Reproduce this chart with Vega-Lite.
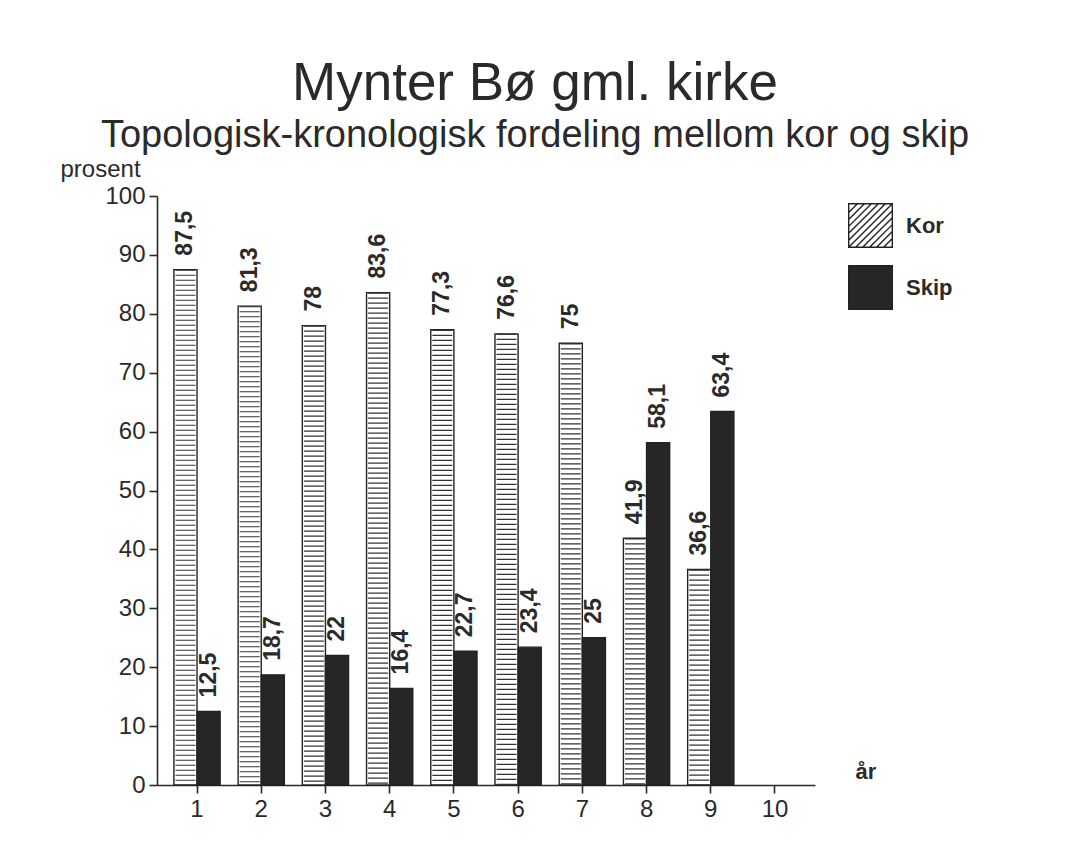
{
  "$schema": "https://vega.github.io/schema/vega-lite/v6.json",
  "autosize": {"type": "none"},
  "padding": {"left": 157, "top": 196, "right": 252, "bottom": 80},
  "width": 658,
  "height": 589,
  "title": {
    "text": "Mynter Bø gml. kirke",
    "subtitle": "Topologisk-kronologisk fordeling mellom kor og skip",
    "anchor": "middle",
    "frame": "group",
    "dx": 49,
    "offset": 2,
    "font": "Liberation Sans",
    "fontSize": 53,
    "fontWeight": "normal",
    "color": "#2a2a2a",
    "subtitleFont": "Liberation Sans",
    "subtitleFontSize": 38,
    "subtitleColor": "#2a2a2a",
    "subtitlePadding": 6
  },
  "data": {
    "values": [
      {"aar": "1", "type": "Kor", "pct": 87.5},
      {"aar": "1", "type": "Skip", "pct": 12.5},
      {"aar": "2", "type": "Kor", "pct": 81.3},
      {"aar": "2", "type": "Skip", "pct": 18.7},
      {"aar": "3", "type": "Kor", "pct": 78},
      {"aar": "3", "type": "Skip", "pct": 22},
      {"aar": "4", "type": "Kor", "pct": 83.6},
      {"aar": "4", "type": "Skip", "pct": 16.4},
      {"aar": "5", "type": "Kor", "pct": 77.3},
      {"aar": "5", "type": "Skip", "pct": 22.7},
      {"aar": "6", "type": "Kor", "pct": 76.6},
      {"aar": "6", "type": "Skip", "pct": 23.4},
      {"aar": "7", "type": "Kor", "pct": 75},
      {"aar": "7", "type": "Skip", "pct": 25},
      {"aar": "8", "type": "Kor", "pct": 41.9},
      {"aar": "8", "type": "Skip", "pct": 58.1},
      {"aar": "9", "type": "Kor", "pct": 36.6},
      {"aar": "9", "type": "Skip", "pct": 63.4}
    ]
  },
  "encoding": {
    "x": {
      "field": "aar",
      "type": "nominal",
      "sort": null,
      "scale": {"domain": ["1","2","3","4","5","6","7","8","9","10"], "paddingInner": 0.28, "paddingOuter": 0.263},
      "axis": {
        "title": "år",
        "titleAngle": 0,
        "titleX": 698,
        "titleY": -7,
        "titleAlign": "left",
        "titleBaseline": "alphabetic",
        "titleFontSize": 22,
        "titleFontWeight": "bold",
        "titleColor": "#2a2a2a",
        "labelAngle": 0,
        "labelFontSize": 24,
        "labelColor": "#2a2a2a",
        "labelPadding": 4,
        "tickSize": 8,
        "tickColor": "#2a2a2a",
        "domainColor": "#2a2a2a",
        "domainWidth": 1.6,
        "tickWidth": 1.6,
        "grid": false
      }
    },
    "xOffset": {"field": "type", "type": "nominal", "scale": {"domain": ["Kor", "Skip"], "paddingInner": 0, "paddingOuter": 0}},
    "y": {
      "field": "pct",
      "type": "quantitative",
      "scale": {"domain": [0, 100], "nice": false},
      "axis": {
        "title": "prosent",
        "titleAngle": 0,
        "titleX": -97,
        "titleY": -20,
        "titleAlign": "left",
        "titleBaseline": "alphabetic",
        "titleFontSize": 24,
        "titleFontWeight": "normal",
        "titleColor": "#2a2a2a",
        "values": [0, 10, 20, 30, 40, 50, 60, 70, 80, 90, 100],
        "labelFontSize": 24,
        "labelColor": "#2a2a2a",
        "labelPadding": 4,
        "tickSize": 8,
        "tickColor": "#2a2a2a",
        "tickWidth": 1.6,
        "domainColor": "#2a2a2a",
        "domainWidth": 1.6,
        "grid": false
      }
    }
  },
  "layer": [
    {
      "mark": {"type": "bar", "stroke": "#222222", "strokeWidth": 1.4},
      "encoding": {
        "fill": {
          "field": "type",
          "type": "nominal",
          "scale": {"domain": ["Kor", "Skip"], "range": ["#ffffff", "#262626"]},
          "legend": {
            "title": null,
            "orient": "none",
            "legendX": 691,
            "legendY": 7,
            "symbolType": "square",
            "symbolSize": 1900,
            "symbolStrokeColor": "#222222",
            "symbolStrokeWidth": 1.4,
            "rowPadding": 11,
            "labelOffset": 13,
            "labelFontSize": 22,
            "labelFontWeight": "bold",
            "labelColor": "#2a2a2a",
            "encode": {
              "symbols": {
                "update": {
                  "shape": {"signal": "datum.value === 'Kor' ? 'M-1,-1H1V1H-1Z M-1,-0.6L-0.6,-1 M-1,-0.28L-0.28,-1 M-1,0.04L0.04,-1 M-1,0.36L0.36,-1 M-1,0.68L0.68,-1 M-1,1L1,-1 M-0.68,1L1,-0.68 M-0.36,1L1,-0.36 M-0.04,1L1,-0.04 M0.28,1L1,0.28 M0.6,1L1,0.6' : 'square'"},
                  "stroke": {"value": "#222222"}
                }
              }
            }
          }
        }
      }
    },
    {
      "transform": [{"filter": "datum.type === 'Kor'"}],
      "mark": {"type": "rule", "stroke": "#333333", "strokeWidth": 20, "strokeDash": [1.2, 3.8], "strokeCap": "butt"},
      "encoding": {
        "y2": {"datum": 0}
      }
    },
    {
      "mark": {"type": "text", "angle": 270, "align": "left", "baseline": "middle", "dx": 14, "fontSize": 23, "fontWeight": "bold", "color": "#2a2a2a"},
      "encoding": {
        "text": {"field": "pct", "type": "quantitative", "format": ".1~f"}
      }
    }
  ],
  "config": {
    "font": "Liberation Sans",
    "view": {"stroke": null},
    "locale": {
      "number": {"decimal": ",", "thousands": " ", "grouping": [3], "currency": ["", " kr"]}
    }
  }
}
